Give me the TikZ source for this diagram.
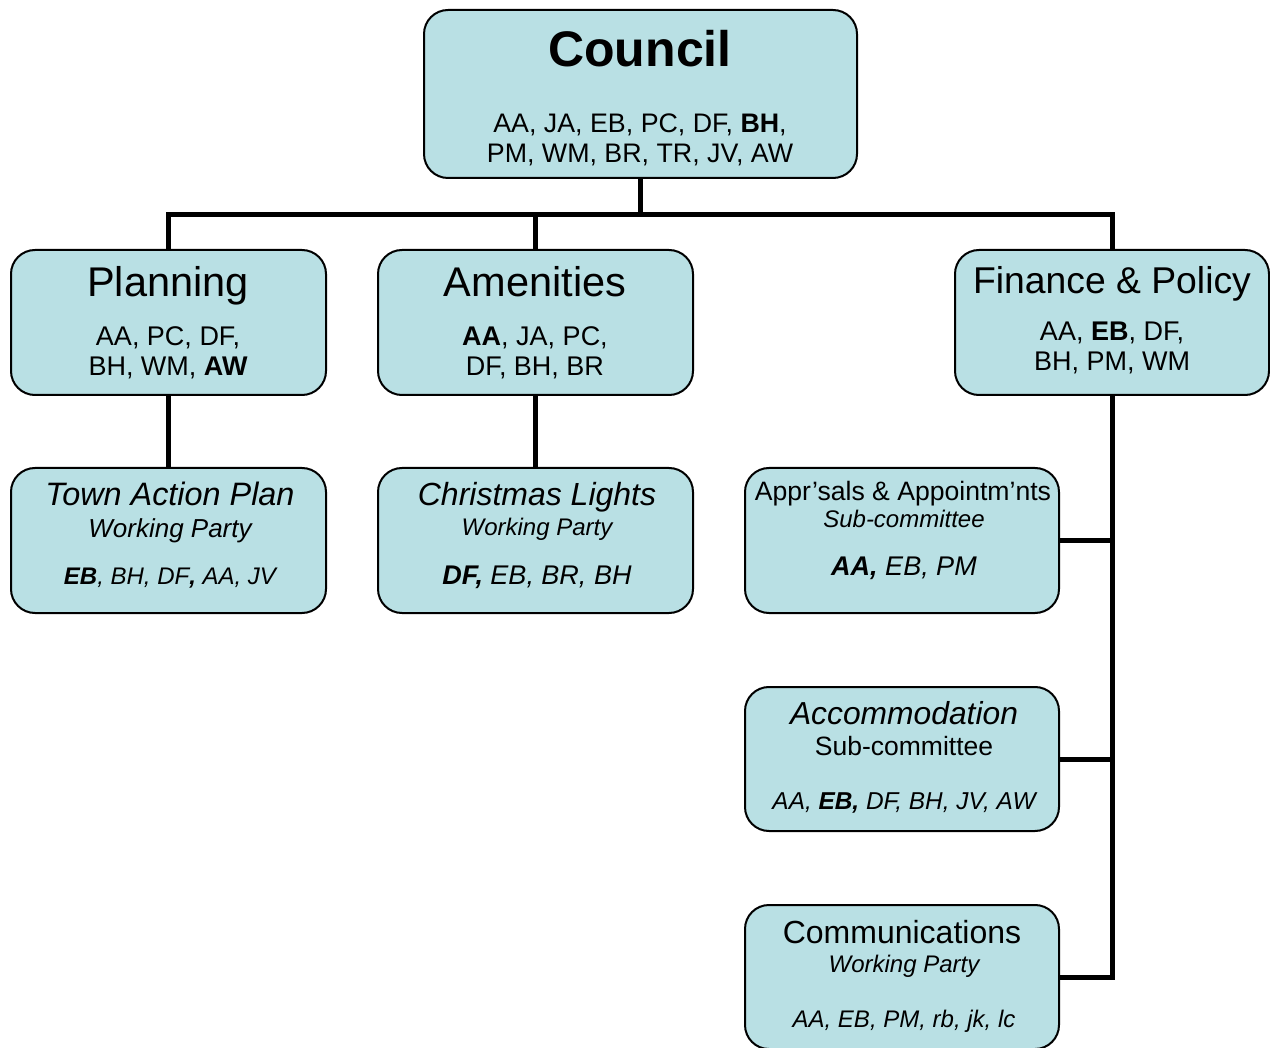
\documentclass[tikz,border=0pt]{standalone}
\usepackage{fontspec}
\setmainfont{Liberation Sans}
\definecolor{boxfill}{RGB}{185,224,228}
\newcommand{\fs}[1]{\fontsize{#1}{#1}\selectfont}
\begin{document}
\begin{tikzpicture}[x=1pt,y=-1pt,
  box/.style={draw=black,line width=2pt,fill=boxfill,rounded corners=24pt,inner sep=0pt},
  conn/.style={draw=black,line width=5pt},
  txt/.style={anchor=base,inner sep=0pt}]
\useasboundingbox (0,0) rectangle (1270,1048);
\path
  (640.5,94) coordinate (cC)
  (168.5,322.5) coordinate (cP)
  (535.5,322.5) coordinate (cA)
  (1112,322.5) coordinate (cF)
  (168.5,540.5) coordinate (cT)
  (535.5,540.5) coordinate (cX)
  (902,540.5) coordinate (cR)
  (902,759) coordinate (cM)
  (902,977) coordinate (cO);
\coordinate (bus) at (640,215);
% connectors
\draw[conn] (640,178) -- (bus);
\draw[conn] (168,251) |- (bus) -| (1112,251);
\draw[conn] (535,215) -- (535,251);
\draw[conn] (168,394) -- (168,469);
\draw[conn] (535,394) -- (535,469);
\draw[conn] (1112,394) |- (1058,977);
\draw[conn] (1058,541) -- (1112,541);
\draw[conn] (1058,759) -- (1112,759);
% nodes
\node[box,minimum width=433pt,minimum height=168pt] (council) at (cC) {};
\node[box,minimum width=315pt,minimum height=145pt] (plan) at (cP) {};
\node[box,minimum width=315pt,minimum height=145pt] (amen) at (cA) {};
\node[box,minimum width=314pt,minimum height=145pt] (fin) at (cF) {};
\node[box,minimum width=315pt,minimum height=145pt] (tap) at (cT) {};
\node[box,minimum width=315pt,minimum height=145pt] (xmas) at (cX) {};
\node[box,minimum width=314pt,minimum height=145pt] (appr) at (cR) {};
\node[box,minimum width=314pt,minimum height=144pt] (accom) at (cM) {};
\node[box,minimum width=314pt,minimum height=144pt] (comm) at (cO) {};
% texts
\node[txt] (councilT) at (640,67) {\fs{50}\bfseries Council};
\node[txt] (councilM1) at (640,133) {\fs{26.8}AA, JA, EB, PC, DF, \textbf{BH},};
\node[txt] (councilM2) at (640,163) {\fs{26.8}PM, WM, BR, TR, JV, AW};
\node[txt] (planT) at (168,297) {\fs{41.5}Planning};
\node[txt] (planM1) at (168,346) {\fs{27}AA, PC, DF,};
\node[txt] (planM2) at (168,376) {\fs{27}BH, WM, \textbf{AW}};
\node[txt] (amenT) at (535,297) {\fs{41.5}Amenities};
\node[txt] (amenM1) at (535,346) {\fs{27}\textbf{AA}, JA, PC,};
\node[txt] (amenM2) at (535,376) {\fs{27}DF, BH, BR};
\node[txt] (finT) at (1112,294) {\fs{37.3}Finance \& Policy};
\node[txt] (finM1) at (1112,341) {\fs{27}AA, \textbf{EB}, DF,};
\node[txt] (finM2) at (1112,371) {\fs{27}BH, PM, WM};
\node[txt] (tapT) at (170,506) {\fs{32.4}\itshape Town Action Plan};
\node[txt] (tapS) at (170,537) {\fs{26}\itshape Working Party};
\node[txt] (tapM) at (170,584) {\fs{24}\itshape\textbf{EB}, BH, DF\textbf{,} AA, JV};
\node[txt] (xmasT) at (537,506) {\fs{32}\itshape Christmas Lights};
\node[txt] (xmasS) at (537,536) {\fs{24}\itshape Working Party};
\node[txt] (xmasM) at (537,584) {\fs{27}\itshape\textbf{DF,} EB, BR, BH};
\node[txt] (apprT) at (903,501) {\fs{26.6}Appr’sals \& Appointm’nts};
\node[txt] (apprS) at (904,528) {\fs{24}\itshape Sub-committee};
\node[txt] (apprM) at (904,575) {\fs{27}\itshape\textbf{AA,} EB, PM};
\node[txt] (accomT) at (904,724) {\fs{31.8}\itshape Accommodation};
\node[txt] (accomS) at (904,755) {\fs{26.5}Sub-committee};
\node[txt] (accomM) at (904,809) {\fs{24.4}\itshape AA, \textbf{EB,} DF, BH, JV, AW};
\node[txt] (commT) at (902,943) {\fs{32}Communications};
\node[txt] (commS) at (904,972) {\fs{24}\itshape Working Party};
\node[txt] (commM) at (904,1027) {\fs{24}\itshape AA, EB, PM, rb, jk, lc};
\end{tikzpicture}
\end{document}
